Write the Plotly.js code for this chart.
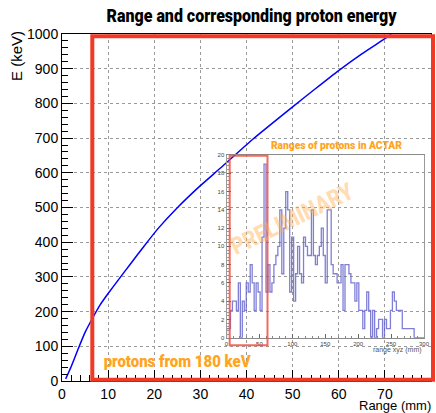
<!DOCTYPE html>
<html>
<head>
<meta charset="utf-8">
<script src="https://cdn.plot.ly/plotly-3.0.1.min.js"></script>
<style>html,body{margin:0;padding:0;background:#fff;}#chart{width:436px;height:413px;}</style>
</head>
<body>
<div id="chart"></div>
<script>
// Range–energy curve (mm, keV)
const rangeMm = [0.8, 2, 3.5, 5, 6.7, 8.3, 10, 12.3, 15, 17.7, 21, 24.9, 30, 34.3, 41.3, 50, 55, 59.9, 65, 70.4, 71.4];
const energyKeV = [6, 42, 92, 140, 183, 220, 252, 293, 340, 387, 442, 498, 563, 613, 696, 790, 843, 894, 943, 990, 1000];

// Inset histogram: ranges of protons in ACTAR (3 mm bins from 0 to 300 mm)
const binWidthMm = 3;
const histCounts = [1,1,3,4,4,3,6,0,4,3, 6,5,8,6,3,6,5,3,11,19,
                    5,8,5,6,8,9,10,14,7,12, 16,14,5,11,4,7,10,7,6,11,
                    10,9,9,14,9,8,9,10,12,9, 6,14,14,8,7,7,6,6,8,3,
                    8,8,7,6,6,4,6,3,3,1, 3,5,3,0,3,0,1,2,2,0,
                    2,1,1,3,5,4,3,3,3,1, 1,1,1,1,1,0,0,0,0,0];

const mainTitle = "Range and corresponding proton energy";
const insetTitle = "Ranges of protons in ACTAR";
const noteText = "protons from 180 keV";
const watermark = "PRELIMINARY";

const histX = [0];
const histY = [0];
histCounts.forEach((c, i) => { histX.push(i * binWidthMm); histY.push(c); });
histX.push(histCounts.length * binWidthMm); histY.push(histCounts[histCounts.length - 1]);
histX.push(histCounts.length * binWidthMm); histY.push(0);

const W = 436, H = 413;
const L = 62, R = 5, T = 34, B = 32;
const PW = W - L - R, PH = H - T - B;
const px = x => (x - L) / PW;
const py = y => (H - B - y) / PH;

const condensed = "Roboto, DejaVu Sans, sans-serif";
const helv = "Liberation Sans, Arial, Helvetica, sans-serif";
const orange = "#ffa41c";
const red = "#f03a26";

// target widths (px) for the condensed-looking texts
const squeeze = {};
squeeze[mainTitle] = 290;
squeeze[noteText] = 147;
squeeze[insetTitle] = 131;
squeeze[watermark] = 133;

const traces = [
  {
    x: rangeMm, y: energyKeV, type: "scatter", mode: "lines",
    line: {color: "#0000ff", width: 1.5, shape: "spline", smoothing: 0.5},
    xaxis: "x", yaxis: "y", hoverinfo: "skip"
  },
  {
    x: histX, y: histY, type: "scatter", mode: "lines",
    line: {color: "rgba(95,95,205,0.8)", width: 1.3, shape: "hv"},
    xaxis: "x2", yaxis: "y2", hoverinfo: "skip"
  }
];

function sq(text, extra) {
  return Object.assign({text: text, width: squeeze[text] + 4, borderpad: 0}, extra);
}

const layout = {
  width: W, height: H,
  margin: {l: L, r: R, t: T, b: B, pad: 0},
  paper_bgcolor: "#ffffff",
  plot_bgcolor: "rgba(0,0,0,0)",
  showlegend: false,
  xaxis: {
    domain: [0, 1], range: [0, 80], dtick: 10, tick0: 0,
    showline: true, mirror: true, linecolor: "#000", linewidth: 1,
    ticks: "inside", ticklen: 11, tickcolor: "#000", tickwidth: 1,
    minor: {dtick: 2, ticks: "inside", ticklen: 6, tickcolor: "#000", showgrid: false},
    showgrid: true, gridcolor: "#9a9a9a", griddash: "dot", gridwidth: 1,
    zeroline: false,
    tickfont: {family: helv, size: 14, color: "#000"}
  },
  yaxis: {
    domain: [0, 1], range: [0, 1000], dtick: 100, tick0: 0,
    showline: true, mirror: true, linecolor: "#000", linewidth: 1,
    ticks: "inside", ticklen: 11, tickcolor: "#000", tickwidth: 1,
    minor: {dtick: 20, ticks: "inside", ticklen: 6, tickcolor: "#000", showgrid: false},
    showgrid: true, gridcolor: "#9a9a9a", griddash: "dot", gridwidth: 1,
    zeroline: false,
    tickfont: {family: helv, size: 14, color: "#000"}
  },
  xaxis2: {
    domain: [px(226.5), px(424)], anchor: "y2", range: [0, 300], dtick: 50, tick0: 0,
    showline: true, mirror: true, linecolor: "#8a8a8a", linewidth: 1,
    ticks: "inside", ticklen: 4, tickcolor: "#666",
    minor: {dtick: 10, ticks: "inside", ticklen: 2, tickcolor: "#888"},
    showgrid: false, zeroline: false,
    tickfont: {family: helv, size: 6, color: "#444"}
  },
  yaxis2: {
    domain: [py(337.7), py(155)], anchor: "x2", range: [0, 20], dtick: 2, tick0: 0,
    showline: true, mirror: true, linecolor: "#9a9a9a", linewidth: 1,
    ticks: "inside", ticklen: 4, tickcolor: "#666",
    minor: {dtick: 0.4, ticks: "inside", ticklen: 2, tickcolor: "#999"},
    showgrid: false, zeroline: false,
    tickfont: {family: helv, size: 6, color: "#444"}
  },
  shapes: [
    {type: "rect", xref: "paper", yref: "paper", layer: "above",
     x0: px(92.3), x1: px(433), y0: py(379.7), y1: py(36.3),
     line: {color: red, width: 4}, fillcolor: "rgba(0,0,0,0)"},
    {type: "rect", xref: "paper", yref: "paper", layer: "above",
     x0: px(229.7), x1: px(267.5), y0: py(345.2), y1: py(155.8),
     line: {color: "rgba(240,70,55,0.8)", width: 2}, fillcolor: "rgba(0,0,0,0)"}
  ],
  annotations: [
    sq(mainTitle, {xref: "paper", yref: "paper", x: px(252), y: py(16),
     xanchor: "center", yanchor: "middle", showarrow: false,
     font: {family: condensed, size: 17.5, color: "#000", weight: 900}}),
    {text: "E (keV)", xref: "paper", yref: "paper", x: px(16), y: py(56),
     xanchor: "center", yanchor: "middle", textangle: -90, showarrow: false,
     font: {family: helv, size: 15, color: "#000"}},
    {text: "Range (mm)", xref: "paper", yref: "paper", x: px(432), y: py(405.5),
     xanchor: "right", yanchor: "middle", showarrow: false, borderpad: 0,
     font: {family: helv, size: 13, color: "#000"}},
    sq(noteText, {xref: "paper", yref: "paper", x: px(177.5), y: py(361),
     xanchor: "center", yanchor: "middle", showarrow: false,
     font: {family: condensed, size: 17, color: orange, weight: 900}}),
    sq(insetTitle, {xref: "paper", yref: "paper", x: px(336), y: py(145),
     xanchor: "center", yanchor: "middle", showarrow: false,
     font: {family: condensed, size: 10.5, color: orange, weight: 900}}),
    {text: "range xyz (mm)", xref: "paper", yref: "paper", x: px(423), y: py(350),
     xanchor: "right", yanchor: "middle", showarrow: false, borderpad: 0,
     font: {family: helv, size: 7, color: "#555"}},
    sq(watermark, {xref: "paper", yref: "paper", x: px(292), y: py(219),
     xanchor: "center", yanchor: "middle", textangle: -26, showarrow: false,
     font: {family: condensed, size: 24, color: "rgba(255,175,80,0.45)", weight: 900}})
  ]
};

Plotly.newPlot("chart", traces, layout, {staticPlot: true, displayModeBar: false}).then(gd => {
  gd.querySelectorAll("text.annotation-text").forEach(t => {
    const w = squeeze[t.textContent];
    if (w) {
      t.setAttribute("textLength", w);
      t.setAttribute("lengthAdjust", "spacingAndGlyphs");
    }
  });
});
</script>
</body>
</html>
